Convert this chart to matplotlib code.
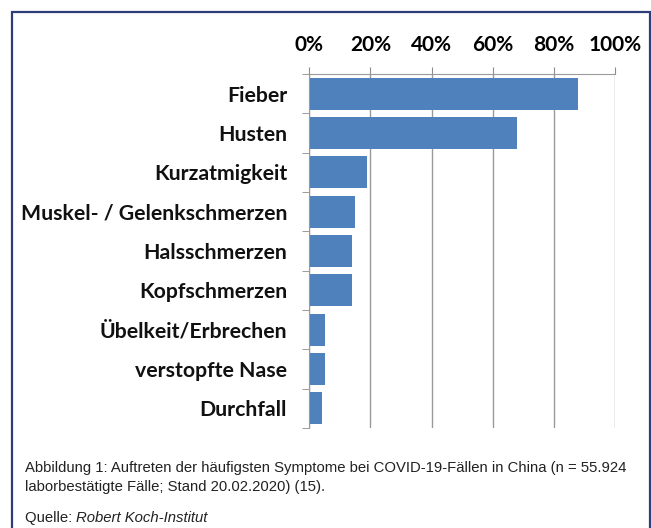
import numpy as np
import matplotlib
matplotlib.use('Agg')
import matplotlib.pyplot as plt
from matplotlib.patches import Rectangle

# values in percent (RKI, n = 55.924)
symptome = ["Fieber", "Husten", "Kurzatmigkeit", "Muskel- / Gelenkschmerzen",
            "Halsschmerzen", "Kopfschmerzen", "Übelkeit/Erbrechen",
            "verstopfte Nase", "Durchfall"]
anteil = [88, 68, 19, 15, 14, 14, 5, 5, 4]
xticks = [0, 20, 40, 60, 80, 100]
xlabels = ["0%", "20%", "40%", "60%", "80%", "100%"]

fig = plt.figure(figsize=(6.51, 5.28), dpi=100)
fig.patch.set_facecolor("white")

# navy frame around the figure
fig.patches.append(Rectangle((12/651, -0.1), (650-12)/651, 1 - 12/528 + 0.1,
                             transform=fig.transFigure, fill=False,
                             edgecolor="#2d3e78", linewidth=1.6))

ax = fig.add_axes([309.3/651, 1-428/528, (615-309.3)/651, (428-74)/528])
y = np.arange(len(symptome))
ax.barh(y, anteil, height=0.82, color="#4f81bd")
ax.set_xlim(0, 100)
ax.set_ylim(len(symptome)-0.5, -0.5)

ax.xaxis.tick_top()
ax.set_xticks(xticks)
ax.set_xticklabels(xlabels, family="Lato", fontweight="bold", fontsize=15)
ax.tick_params(axis="x", length=5, color="#8c8c8c", pad=9)
ax.grid(axis="x", color="#9a9a9a", linewidth=1)
ax.set_axisbelow(True)

ax.set_yticks(y)
ax.set_yticklabels(symptome, family="Lato", fontweight="bold", fontsize=15.3,
                   color="#111111")
ax.tick_params(axis="y", which="major", length=0, pad=16)
ax.set_yticks(np.arange(len(symptome)+1) - 0.5, minor=True)
ax.tick_params(axis="y", which="minor", length=5, color="#8c8c8c")

for s in ["right", "bottom"]:
    ax.spines[s].set_visible(False)
for s in ["top", "left"]:
    ax.spines[s].set_color("#9a9a9a")

cap = dict(family="Liberation Sans", fontsize=10.7, color="#222222", va="center")
fig.text(25/651, 1-468/528,
         "Abbildung 1: Auftreten der häufigsten Symptome bei COVID-19-Fällen in China (n = 55.924",
         **cap)
fig.text(25/651, 1-487/528, "laborbestätigte Fälle; Stand 20.02.2020) (15).", **cap)
t = fig.text(25/651, 1-518/528, "Quelle: ", **cap)
fig.canvas.draw()
bb = t.get_window_extent()
fig.text(bb.x1/651, 1-518/528, "Robert Koch-Institut", style="italic", **cap)

fig.savefig("out.png", dpi=100)
